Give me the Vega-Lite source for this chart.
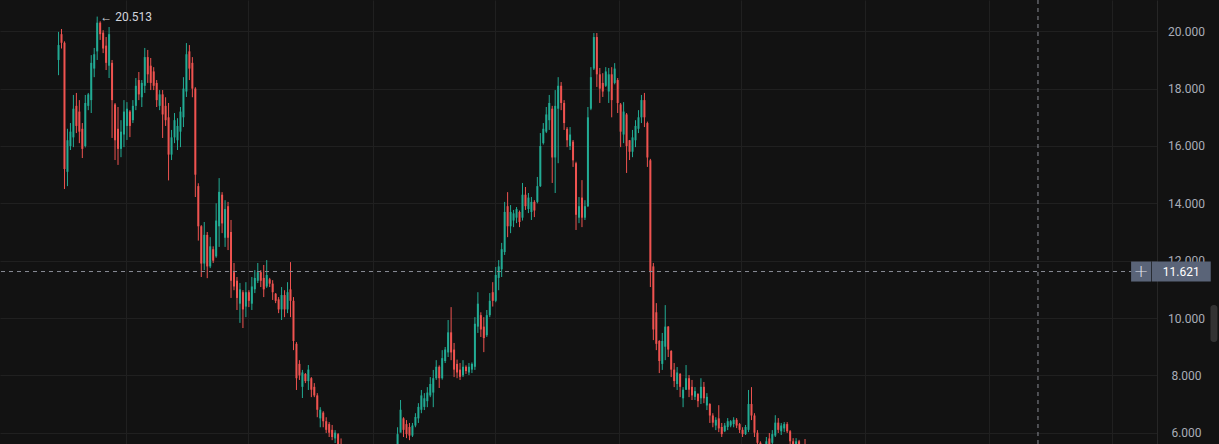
{
  "$schema": "https://vega.github.io/schema/vega-lite/v6.json",
  "width": 1157,
  "height": 444,
  "autosize": {"type": "none"},
  "padding": {"left": 0, "top": 0, "right": 62, "bottom": 0},
  "background": "#121212",
  "config": {"view": {"stroke": null}, "font": "Roboto", "axis": {"title": null}},
  "datasets": {
    "candles": [
      {"t":0,"o":19.0,"h":19.98,"l":18.47,"c":19.52},
      {"t":1,"o":19.9,"h":20.08,"l":19.4,"c":19.6},
      {"t":2,"o":19.6,"h":19.65,"l":14.5,"c":15.2},
      {"t":3,"o":15.1,"h":16.6,"l":14.6,"c":16.2},
      {"t":4,"o":16.0,"h":16.8,"l":15.86,"c":16.5},
      {"t":5,"o":16.3,"h":17.78,"l":15.96,"c":17.3},
      {"t":6,"o":17.4,"h":17.85,"l":16.45,"c":16.7},
      {"t":7,"o":17.2,"h":17.6,"l":16.1,"c":16.5},
      {"t":8,"o":16.6,"h":16.8,"l":15.58,"c":15.9},
      {"t":9,"o":16.0,"h":17.78,"l":15.95,"c":17.5},
      {"t":10,"o":17.4,"h":17.85,"l":17.25,"c":17.8},
      {"t":11,"o":17.6,"h":19.17,"l":17.15,"c":18.9},
      {"t":12,"o":18.7,"h":19.42,"l":18.4,"c":19.2},
      {"t":13,"o":19.3,"h":20.513,"l":19.0,"c":20.3},
      {"t":14,"o":20.3,"h":20.35,"l":19.7,"c":19.9},
      {"t":15,"o":19.95,"h":20.04,"l":19.24,"c":19.4},
      {"t":16,"o":19.5,"h":19.8,"l":18.65,"c":18.9},
      {"t":17,"o":18.8,"h":20.15,"l":18.37,"c":19.9},
      {"t":18,"o":18.9,"h":19.0,"l":16.28,"c":17.6},
      {"t":19,"o":17.45,"h":17.5,"l":15.51,"c":16.2},
      {"t":20,"o":16.6,"h":17.36,"l":15.34,"c":15.9},
      {"t":21,"o":15.9,"h":16.9,"l":15.61,"c":16.5},
      {"t":22,"o":16.4,"h":17.6,"l":15.96,"c":17.2},
      {"t":23,"o":16.7,"h":17.53,"l":16.21,"c":17.3},
      {"t":24,"o":17.2,"h":17.25,"l":16.31,"c":16.7},
      {"t":25,"o":16.9,"h":17.6,"l":16.8,"c":17.4},
      {"t":26,"o":17.4,"h":18.37,"l":17.25,"c":18.1},
      {"t":27,"o":18.3,"h":18.58,"l":17.6,"c":17.8},
      {"t":28,"o":17.7,"h":18.3,"l":17.36,"c":18.2},
      {"t":29,"o":18.1,"h":19.42,"l":17.85,"c":19.1},
      {"t":30,"o":19.1,"h":19.35,"l":18.2,"c":18.5},
      {"t":31,"o":18.8,"h":19.07,"l":17.95,"c":18.2},
      {"t":32,"o":18.6,"h":18.75,"l":17.95,"c":18.1},
      {"t":33,"o":18.2,"h":18.3,"l":17.36,"c":17.6},
      {"t":34,"o":17.4,"h":17.95,"l":17.25,"c":17.8},
      {"t":35,"o":17.8,"h":17.95,"l":16.28,"c":17.1},
      {"t":36,"o":17.4,"h":17.7,"l":16.7,"c":16.9},
      {"t":37,"o":17.0,"h":17.5,"l":14.8,"c":15.7},
      {"t":38,"o":15.7,"h":16.56,"l":15.51,"c":16.3},
      {"t":39,"o":16.3,"h":17.15,"l":16.1,"c":16.9},
      {"t":40,"o":16.2,"h":16.97,"l":15.86,"c":16.7},
      {"t":41,"o":16.5,"h":17.36,"l":15.96,"c":17.2},
      {"t":42,"o":17.0,"h":18.4,"l":16.66,"c":18.0},
      {"t":43,"o":17.9,"h":19.59,"l":17.71,"c":19.2},
      {"t":44,"o":19.3,"h":19.52,"l":18.3,"c":18.7},
      {"t":45,"o":18.9,"h":19.1,"l":17.7,"c":18.0},
      {"t":46,"o":18.0,"h":18.05,"l":14.22,"c":15.0},
      {"t":47,"o":14.6,"h":14.7,"l":12.7,"c":13.2},
      {"t":48,"o":13.2,"h":13.24,"l":11.43,"c":11.9},
      {"t":49,"o":11.9,"h":13.35,"l":11.67,"c":12.9},
      {"t":50,"o":12.9,"h":13.0,"l":11.39,"c":11.8},
      {"t":51,"o":11.8,"h":12.82,"l":11.74,"c":12.5},
      {"t":52,"o":12.4,"h":12.5,"l":11.92,"c":12.0},
      {"t":53,"o":12.15,"h":14.0,"l":12.1,"c":13.4},
      {"t":54,"o":13.2,"h":14.88,"l":12.48,"c":14.4},
      {"t":55,"o":14.3,"h":14.39,"l":12.96,"c":13.3},
      {"t":56,"o":12.8,"h":14.11,"l":12.48,"c":13.8},
      {"t":57,"o":13.9,"h":14.05,"l":12.37,"c":12.8},
      {"t":58,"o":13.0,"h":13.42,"l":10.7,"c":11.3},
      {"t":59,"o":11.6,"h":11.92,"l":10.97,"c":11.1},
      {"t":60,"o":11.3,"h":11.43,"l":10.28,"c":10.7},
      {"t":61,"o":10.5,"h":11.22,"l":9.83,"c":11.0},
      {"t":62,"o":10.9,"h":10.97,"l":9.65,"c":10.3},
      {"t":63,"o":10.4,"h":11.25,"l":10.03,"c":10.9},
      {"t":64,"o":10.9,"h":10.97,"l":10.38,"c":10.6},
      {"t":65,"o":10.5,"h":11.43,"l":10.28,"c":11.1},
      {"t":66,"o":11.0,"h":11.67,"l":10.87,"c":11.4},
      {"t":67,"o":11.3,"h":11.92,"l":11.22,"c":11.6},
      {"t":68,"o":11.6,"h":11.67,"l":11.08,"c":11.3},
      {"t":69,"o":11.4,"h":11.85,"l":10.73,"c":11.0},
      {"t":70,"o":11.1,"h":12.02,"l":11.05,"c":11.5},
      {"t":71,"o":11.35,"h":11.4,"l":11.08,"c":11.2},
      {"t":72,"o":11.2,"h":11.32,"l":10.63,"c":10.9},
      {"t":73,"o":10.85,"h":10.87,"l":10.52,"c":10.6},
      {"t":74,"o":10.65,"h":10.73,"l":10.17,"c":10.3},
      {"t":75,"o":10.3,"h":11.08,"l":9.93,"c":10.8},
      {"t":76,"o":10.8,"h":10.97,"l":10.03,"c":10.3},
      {"t":77,"o":10.3,"h":11.25,"l":10.17,"c":10.9},
      {"t":78,"o":11.0,"h":11.95,"l":10.03,"c":10.6},
      {"t":79,"o":10.6,"h":10.73,"l":8.88,"c":9.2},
      {"t":80,"o":9.1,"h":9.16,"l":7.49,"c":7.9},
      {"t":81,"o":8.4,"h":8.53,"l":7.84,"c":8.0},
      {"t":82,"o":7.6,"h":8.19,"l":7.21,"c":8.1},
      {"t":83,"o":8.05,"h":8.08,"l":7.73,"c":7.8},
      {"t":84,"o":7.8,"h":8.36,"l":7.49,"c":8.2},
      {"t":85,"o":7.9,"h":7.94,"l":7.24,"c":7.5},
      {"t":86,"o":7.6,"h":7.73,"l":7.24,"c":7.3},
      {"t":87,"o":7.3,"h":7.38,"l":6.54,"c":6.8},
      {"t":88,"o":6.5,"h":6.89,"l":6.19,"c":6.8},
      {"t":89,"o":6.7,"h":6.75,"l":6.19,"c":6.4},
      {"t":90,"o":6.4,"h":6.54,"l":5.99,"c":6.1},
      {"t":91,"o":6.3,"h":6.37,"l":5.85,"c":6.0},
      {"t":92,"o":6.1,"h":6.27,"l":5.74,"c":5.85},
      {"t":93,"o":5.8,"h":6.09,"l":5.64,"c":6.0},
      {"t":94,"o":5.95,"h":5.99,"l":5.5,"c":5.6},
      {"t":95,"o":5.6,"h":5.8,"l":5.3,"c":5.4},
      {"t":96,"o":5.4,"h":5.5,"l":5.0,"c":5.1},
      {"t":97,"o":5.1,"h":5.45,"l":5.0,"c":5.3},
      {"t":98,"o":5.3,"h":5.4,"l":4.9,"c":5.0},
      {"t":99,"o":5.0,"h":5.1,"l":4.7,"c":4.8},
      {"t":100,"o":4.8,"h":5.1,"l":4.7,"c":5.0},
      {"t":101,"o":5.0,"h":5.05,"l":4.6,"c":4.7},
      {"t":102,"o":4.7,"h":4.9,"l":4.5,"c":4.8},
      {"t":103,"o":4.8,"h":4.9,"l":4.5,"c":4.6},
      {"t":104,"o":4.6,"h":4.95,"l":4.55,"c":4.9},
      {"t":105,"o":4.9,"h":5.2,"l":4.8,"c":5.1},
      {"t":106,"o":5.1,"h":5.2,"l":4.8,"c":4.9},
      {"t":107,"o":4.9,"h":5.3,"l":4.85,"c":5.2},
      {"t":108,"o":5.2,"h":5.45,"l":5.1,"c":5.35},
      {"t":109,"o":5.35,"h":5.45,"l":5.0,"c":5.1},
      {"t":110,"o":5.1,"h":5.5,"l":5.05,"c":5.4},
      {"t":111,"o":5.4,"h":5.55,"l":5.2,"c":5.5},
      {"t":112,"o":5.5,"h":5.55,"l":5.2,"c":5.3},
      {"t":113,"o":5.3,"h":5.55,"l":5.2,"c":5.5},
      {"t":114,"o":5.5,"h":6.19,"l":5.4,"c":5.95},
      {"t":115,"o":6.0,"h":7.14,"l":6.09,"c":6.8},
      {"t":116,"o":6.5,"h":6.54,"l":5.85,"c":6.1},
      {"t":117,"o":6.3,"h":6.44,"l":5.81,"c":5.95},
      {"t":118,"o":6.2,"h":6.34,"l":5.74,"c":5.9},
      {"t":119,"o":5.9,"h":6.34,"l":5.85,"c":6.25},
      {"t":120,"o":6.25,"h":6.68,"l":6.19,"c":6.55},
      {"t":121,"o":6.5,"h":7.03,"l":6.34,"c":6.9},
      {"t":122,"o":6.8,"h":7.49,"l":6.68,"c":7.3},
      {"t":123,"o":6.9,"h":7.38,"l":6.79,"c":7.2},
      {"t":124,"o":7.1,"h":7.59,"l":6.89,"c":7.4},
      {"t":125,"o":7.3,"h":7.94,"l":7.24,"c":7.7},
      {"t":126,"o":7.4,"h":8.19,"l":6.89,"c":7.9},
      {"t":127,"o":7.9,"h":8.53,"l":7.84,"c":8.3},
      {"t":128,"o":8.3,"h":8.35,"l":7.56,"c":7.9},
      {"t":129,"o":7.9,"h":8.88,"l":7.85,"c":8.6},
      {"t":130,"o":8.5,"h":8.99,"l":8.43,"c":8.9},
      {"t":131,"o":8.8,"h":9.93,"l":8.64,"c":9.5},
      {"t":132,"o":9.5,"h":10.38,"l":8.53,"c":8.8},
      {"t":133,"o":8.9,"h":9.13,"l":7.94,"c":8.2},
      {"t":134,"o":8.4,"h":8.55,"l":7.9,"c":8.1},
      {"t":135,"o":8.2,"h":8.43,"l":7.84,"c":7.95},
      {"t":136,"o":8.0,"h":8.53,"l":7.94,"c":8.3},
      {"t":137,"o":8.3,"h":8.35,"l":8.05,"c":8.15},
      {"t":138,"o":8.1,"h":8.43,"l":8.01,"c":8.3},
      {"t":139,"o":8.2,"h":8.45,"l":8.08,"c":8.4},
      {"t":140,"o":8.3,"h":10.03,"l":8.19,"c":9.8},
      {"t":141,"o":9.7,"h":10.9,"l":9.48,"c":10.5},
      {"t":142,"o":10.1,"h":10.2,"l":9.34,"c":9.6},
      {"t":143,"o":9.7,"h":10.03,"l":8.81,"c":9.3},
      {"t":144,"o":9.4,"h":10.28,"l":9.34,"c":10.1},
      {"t":145,"o":10.1,"h":10.87,"l":10.03,"c":10.6},
      {"t":146,"o":10.9,"h":11.25,"l":10.4,"c":10.6},
      {"t":147,"o":10.6,"h":11.78,"l":10.55,"c":11.5},
      {"t":148,"o":11.4,"h":12.02,"l":10.97,"c":11.8},
      {"t":149,"o":11.7,"h":12.62,"l":11.43,"c":12.4},
      {"t":150,"o":12.3,"h":14.05,"l":12.2,"c":13.7},
      {"t":151,"o":13.9,"h":14.39,"l":12.82,"c":13.2},
      {"t":152,"o":13.2,"h":13.94,"l":12.96,"c":13.7},
      {"t":153,"o":13.4,"h":13.77,"l":13.17,"c":13.65},
      {"t":154,"o":13.5,"h":13.87,"l":13.31,"c":13.8},
      {"t":155,"o":13.7,"h":13.75,"l":13.17,"c":13.35},
      {"t":156,"o":13.5,"h":14.71,"l":13.4,"c":14.3},
      {"t":157,"o":14.3,"h":14.57,"l":13.77,"c":13.9},
      {"t":158,"o":13.8,"h":14.36,"l":13.66,"c":14.2},
      {"t":159,"o":13.7,"h":14.22,"l":13.42,"c":14.05},
      {"t":160,"o":14.05,"h":14.11,"l":13.52,"c":13.75},
      {"t":161,"o":14.05,"h":14.92,"l":14.0,"c":14.6},
      {"t":162,"o":14.6,"h":16.45,"l":14.57,"c":16.0},
      {"t":163,"o":16.1,"h":16.8,"l":16.05,"c":16.6},
      {"t":164,"o":16.5,"h":17.36,"l":16.45,"c":17.1},
      {"t":165,"o":16.9,"h":17.78,"l":16.56,"c":17.5},
      {"t":166,"o":17.3,"h":17.4,"l":14.71,"c":15.6},
      {"t":167,"o":15.6,"h":17.95,"l":14.36,"c":17.4},
      {"t":168,"o":17.3,"h":18.4,"l":15.4,"c":18.1},
      {"t":169,"o":18.1,"h":18.23,"l":17.25,"c":17.5},
      {"t":170,"o":17.5,"h":17.6,"l":16.56,"c":16.8},
      {"t":171,"o":16.6,"h":16.66,"l":15.96,"c":16.2},
      {"t":172,"o":16.0,"h":16.66,"l":15.86,"c":16.4},
      {"t":173,"o":16.15,"h":16.21,"l":15.27,"c":15.5},
      {"t":174,"o":15.4,"h":15.45,"l":13.07,"c":13.6},
      {"t":175,"o":13.5,"h":14.22,"l":13.31,"c":13.9},
      {"t":176,"o":14.2,"h":14.81,"l":13.17,"c":13.5},
      {"t":177,"o":13.5,"h":14.11,"l":13.42,"c":13.9},
      {"t":178,"o":13.9,"h":17.36,"l":13.87,"c":17.0},
      {"t":179,"o":17.3,"h":18.75,"l":17.25,"c":18.4},
      {"t":180,"o":18.7,"h":19.94,"l":18.65,"c":19.8},
      {"t":181,"o":19.8,"h":19.94,"l":18.06,"c":18.5},
      {"t":182,"o":18.5,"h":18.72,"l":17.5,"c":18.0},
      {"t":183,"o":18.2,"h":18.54,"l":17.71,"c":17.9},
      {"t":184,"o":18.1,"h":18.75,"l":18.06,"c":18.6},
      {"t":185,"o":17.9,"h":18.72,"l":17.5,"c":18.5},
      {"t":186,"o":18.5,"h":18.75,"l":17.0,"c":17.6},
      {"t":187,"o":18.2,"h":18.89,"l":18.15,"c":18.7},
      {"t":188,"o":18.3,"h":18.37,"l":17.15,"c":17.5},
      {"t":189,"o":17.45,"h":17.5,"l":15.96,"c":16.5},
      {"t":190,"o":16.4,"h":17.53,"l":16.1,"c":17.2},
      {"t":191,"o":17.1,"h":17.15,"l":15.06,"c":16.0},
      {"t":192,"o":16.2,"h":16.21,"l":15.51,"c":15.8},
      {"t":193,"o":15.8,"h":16.56,"l":15.61,"c":16.3},
      {"t":194,"o":16.2,"h":16.9,"l":15.96,"c":16.7},
      {"t":195,"o":16.6,"h":17.25,"l":16.45,"c":17.0},
      {"t":196,"o":17.0,"h":17.78,"l":16.8,"c":17.6},
      {"t":197,"o":17.6,"h":17.85,"l":16.66,"c":17.0},
      {"t":198,"o":16.8,"h":16.85,"l":15.27,"c":15.6},
      {"t":199,"o":15.5,"h":15.55,"l":11.08,"c":11.6},
      {"t":200,"o":11.8,"h":11.92,"l":9.23,"c":9.6},
      {"t":201,"o":10.2,"h":10.52,"l":8.88,"c":9.1},
      {"t":202,"o":9.2,"h":9.23,"l":8.08,"c":8.5},
      {"t":203,"o":8.4,"h":9.48,"l":8.19,"c":9.2},
      {"t":204,"o":9.0,"h":10.45,"l":8.53,"c":9.7},
      {"t":205,"o":9.7,"h":9.72,"l":8.64,"c":8.9},
      {"t":206,"o":8.85,"h":8.88,"l":7.94,"c":8.2},
      {"t":207,"o":8.2,"h":8.43,"l":7.59,"c":7.8},
      {"t":208,"o":7.7,"h":8.29,"l":7.49,"c":8.1},
      {"t":209,"o":8.05,"h":8.08,"l":7.24,"c":7.6},
      {"t":210,"o":7.2,"h":7.59,"l":6.89,"c":7.5},
      {"t":211,"o":7.5,"h":8.36,"l":7.49,"c":7.9},
      {"t":212,"o":7.9,"h":8.01,"l":7.24,"c":7.5},
      {"t":213,"o":7.6,"h":7.84,"l":7.14,"c":7.3},
      {"t":214,"o":7.25,"h":7.59,"l":7.14,"c":7.45},
      {"t":215,"o":7.35,"h":7.38,"l":6.89,"c":7.1},
      {"t":216,"o":7.2,"h":7.9,"l":7.0,"c":7.6},
      {"t":217,"o":7.6,"h":7.77,"l":7.03,"c":7.2},
      {"t":218,"o":6.95,"h":7.38,"l":6.79,"c":7.25},
      {"t":219,"o":7.0,"h":7.03,"l":6.34,"c":6.6},
      {"t":220,"o":6.6,"h":6.68,"l":6.19,"c":6.35},
      {"t":221,"o":6.25,"h":6.54,"l":6.09,"c":6.45},
      {"t":222,"o":6.5,"h":6.96,"l":6.02,"c":6.15},
      {"t":223,"o":6.2,"h":6.34,"l":5.85,"c":5.95},
      {"t":224,"o":6.05,"h":6.34,"l":6.02,"c":6.25},
      {"t":225,"o":6.2,"h":6.51,"l":6.09,"c":6.4},
      {"t":226,"o":6.25,"h":6.44,"l":6.19,"c":6.4},
      {"t":227,"o":6.3,"h":6.54,"l":6.19,"c":6.45},
      {"t":228,"o":6.45,"h":6.51,"l":6.16,"c":6.25},
      {"t":229,"o":6.3,"h":6.34,"l":5.99,"c":6.1},
      {"t":230,"o":6.1,"h":6.19,"l":5.85,"c":5.95},
      {"t":231,"o":5.95,"h":6.27,"l":5.92,"c":6.2},
      {"t":232,"o":6.1,"h":7.49,"l":6.02,"c":7.0},
      {"t":233,"o":7.0,"h":7.59,"l":6.44,"c":6.6},
      {"t":234,"o":6.6,"h":6.68,"l":5.85,"c":6.0},
      {"t":235,"o":6.0,"h":6.09,"l":5.5,"c":5.65},
      {"t":236,"o":5.65,"h":5.7,"l":5.3,"c":5.4},
      {"t":237,"o":5.5,"h":5.58,"l":5.2,"c":5.35},
      {"t":238,"o":5.4,"h":5.85,"l":5.35,"c":5.7},
      {"t":239,"o":5.8,"h":5.99,"l":5.5,"c":5.6},
      {"t":240,"o":5.65,"h":6.09,"l":5.6,"c":5.95},
      {"t":241,"o":5.9,"h":6.61,"l":5.85,"c":6.35},
      {"t":242,"o":6.35,"h":6.51,"l":5.99,"c":6.1},
      {"t":243,"o":6.05,"h":6.34,"l":5.92,"c":6.25},
      {"t":244,"o":6.15,"h":6.37,"l":6.02,"c":6.3},
      {"t":245,"o":6.3,"h":6.37,"l":5.99,"c":6.05},
      {"t":246,"o":6.05,"h":6.09,"l":5.55,"c":5.7},
      {"t":247,"o":5.7,"h":5.81,"l":5.4,"c":5.5},
      {"t":248,"o":5.5,"h":5.81,"l":5.4,"c":5.7},
      {"t":249,"o":5.7,"h":5.75,"l":5.4,"c":5.5},
      {"t":250,"o":5.5,"h":5.6,"l":5.3,"c":5.4},
      {"t":251,"o":5.45,"h":5.78,"l":5.3,"c":5.4}
    ],
    "cross": [{"t": 329.33, "p": 11.621, "label": "11.621"}],
    "peak": [{"t": 13, "p": 20.513, "label": "← 20.513"}]
  },
  "layer": [
    {
      "data": {"name": "candles"},
      "mark": {"type": "rule", "strokeWidth": 1, "clip": true},
      "encoding": {
        "x": {
          "field": "t", "type": "quantitative",
          "scale": {"domain": [-18, 367.667], "nice": false, "zero": false},
          "axis": {
            "orient": "bottom", "values": [22.67, 63.67, 105.67, 146.67, 188.33, 229.33, 271.33, 313, 354.33],
            "grid": true, "gridColor": "#202020", "labels": false, "ticks": false, "domain": false, "title": null
          }
        },
        "y": {
          "field": "l", "type": "quantitative",
          "scale": {"domain": [5.606, 21.092], "nice": false, "zero": false},
          "axis": {
            "orient": "right", "values": [6, 8, 10, 12, 14, 16, 18, 20], "format": ".3f",
            "grid": true, "gridColor": "#202020", "ticks": false, "domain": true, "domainColor": "#262626",
            "labelAlign": "center", "labelBaseline": "middle", "labelPadding": 29, "labelFontSize": 12,
            "labelFont": "Roboto", "labelColor": "#a9adb8", "labelOverlap": false, "labelFlush": false, "title": null
          }
        },
        "y2": {"field": "h"},
        "color": {"condition": {"test": "datum.c >= datum.o", "value": "#22ab94"}, "value": "#ef5350"}
      }
    },
    {
      "data": {"name": "candles"},
      "mark": {"type": "bar", "width": 2, "clip": true},
      "encoding": {
        "x": {"field": "t", "type": "quantitative"},
        "y": {"field": "o", "type": "quantitative"},
        "y2": {"field": "c"},
        "color": {"condition": {"test": "datum.c >= datum.o", "value": "#22ab94"}, "value": "#ef5350"}
      }
    },
    {
      "data": {"name": "cross"},
      "mark": {"type": "rule", "stroke": "#8a8d96", "strokeWidth": 1, "strokeDash": [4, 4]},
      "encoding": {"y": {"field": "p", "type": "quantitative"}}
    },
    {
      "data": {"name": "cross"},
      "mark": {"type": "rule", "stroke": "#8a8d96", "strokeWidth": 1, "strokeDash": [4, 4]},
      "encoding": {"x": {"field": "t", "type": "quantitative"}}
    },
    {
      "data": {"name": "cross"},
      "mark": {"type": "rect", "width": 59, "height": 20, "fill": "#5a6478"},
      "encoding": {
        "x": {"datum": 377.5, "type": "quantitative"},
        "y": {"field": "p", "type": "quantitative"}
      }
    },
    {
      "data": {"name": "cross"},
      "mark": {"type": "rect", "width": 20, "height": 20, "fill": "#5a6478"},
      "encoding": {
        "x": {"datum": 364, "type": "quantitative"},
        "y": {"field": "p", "type": "quantitative"}
      }
    },
    {
      "data": {"name": "cross"},
      "mark": {"type": "text", "fill": "#ffffff", "fontSize": 12, "font": "Roboto", "align": "center", "baseline": "middle"},
      "encoding": {
        "x": {"datum": 377.5, "type": "quantitative"},
        "y": {"field": "p", "type": "quantitative"},
        "text": {"field": "label"}
      }
    },
    {
      "data": {"name": "cross"},
      "mark": {"type": "text", "fill": "#e0e3eb", "fontSize": 18, "font": "DejaVu Sans", "fontWeight": 300, "align": "center", "baseline": "middle", "text": "+"},
      "encoding": {
        "x": {"datum": 364, "type": "quantitative"},
        "y": {"field": "p", "type": "quantitative"}
      }
    },
    {
      "data": {"name": "cross"},
      "mark": {"type": "rect", "width": 7, "height": 37, "fill": "#333333", "cornerRadius": 3},
      "encoding": {
        "x": {"datum": 388.5, "type": "quantitative"},
        "y": {"datum": 9.81, "type": "quantitative"}
      }
    },
    {
      "data": {"name": "peak"},
      "mark": {"type": "text", "fill": "#d1d4dc", "fontSize": 12, "font": "Roboto", "align": "left", "baseline": "middle", "dx": 3},
      "encoding": {
        "x": {"field": "t", "type": "quantitative"},
        "y": {"field": "p", "type": "quantitative"},
        "text": {"field": "label"}
      }
    }
  ]
}
